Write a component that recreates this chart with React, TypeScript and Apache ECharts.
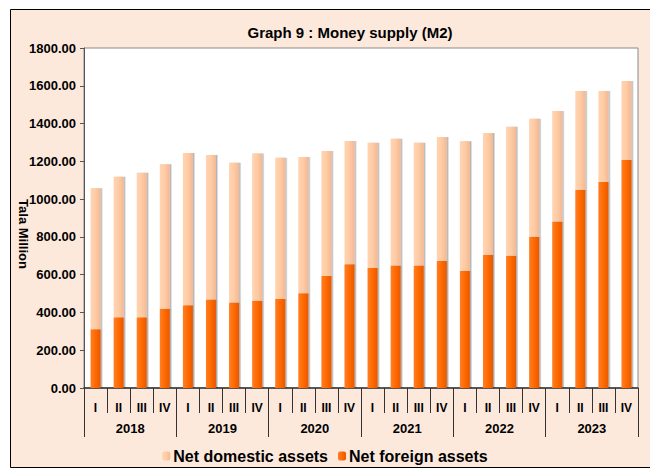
import React, { useEffect, useRef } from "react";
import * as echarts from "echarts";

const quarters = ["I", "II", "III", "IV"];
const years = ["2018", "2019", "2020", "2021", "2022", "2023"];
const categories = years.flatMap((y) => quarters.map((q) => `${q}`));
const totalM2 = [1057, 1119, 1140, 1184, 1244, 1233, 1193, 1242, 1219, 1223, 1255, 1308, 1299, 1320, 1299, 1329, 1306, 1350, 1383, 1426, 1466, 1572, 1572, 1625];
const netForeign = [311, 374, 374, 420, 438, 469, 452, 462, 471, 501, 593, 655, 635, 649, 648, 672, 621, 706, 700, 801, 882, 1050, 1091, 1207];
const netDomestic = totalM2.map((t, i) => t - netForeign[i]);
const yTicks = [0, 200, 400, 600, 800, 1000, 1200, 1400, 1600, 1800];

const FONT = "'Liberation Sans Narrow', 'Liberation Sans', Arial, sans-serif";

export default function App() {
  const ref = useRef<HTMLDivElement>(null);
  useEffect(() => {
    if (!ref.current) return;
    const chart = echarts.init(ref.current, null, { renderer: "svg" });
    const orange = new echarts.graphic.LinearGradient(0, 0, 1, 0, [
      { offset: 0, color: "#FF7E26" },
      { offset: 0.5, color: "#FF6A00" },
      { offset: 1, color: "#E85800" },
    ]);
    const peach = new echarts.graphic.LinearGradient(0, 0, 1, 0, [
      { offset: 0, color: "#FFD4B4" },
      { offset: 0.5, color: "#FFCBA3" },
      { offset: 1, color: "#F2B994" },
    ]);
    chart.setOption({
      animation: false,
      backgroundColor: "transparent",
      graphic: [
        {
          type: "rect",
          z: -10,
          silent: true,
          shape: { x: 10.5, y: 9.5, width: 660, height: 458 },
          style: { fill: "#FDE9DC", stroke: "#000", lineWidth: 1 },
        },
        {
          type: "text",
          x: 23,
          y: 234,
          rotation: -Math.PI / 2,
          style: {
            text: "Tala Million",
            font: `bold 13px ${FONT}`,
            fill: "#000",
            align: "center",
            verticalAlign: "middle",
          },
        },
      ],
      title: {
        text: "Graph 9 : Money supply (M2)",
        left: 345,
        top: 20,
        textAlign: "center",
        textStyle: { fontFamily: FONT, fontWeight: "bold", fontSize: 15, color: "#000" },
      },
      legend: {
        data: ["Net domestic assets", "Net foreign assets"],
        left: "center",
        top: 443,
        itemWidth: 8,
        itemHeight: 9,
        itemGap: 10,
        textStyle: { fontFamily: FONT, fontWeight: "bold", fontSize: 16, color: "#000", padding: [0, 0, 0, -2] },
      },
      grid: {
        left: 84,
        right: 12,
        top: 48,
        bottom: 81,
        show: true,
        backgroundColor: "#fff",
        borderColor: "#8a8a8a",
        borderWidth: 1,
      },
      xAxis: [
        {
          type: "category",
          data: categories,
          position: "bottom",
          axisLine: { show: true, lineStyle: { color: "#333", width: 1.5 } },
          axisTick: { show: true, interval: 0, length: 25, lineStyle: { color: "#333" } },
          axisLabel: { interval: 0, margin: 14, fontFamily: FONT, fontWeight: "bold", fontSize: 12, color: "#000" },
        },
        {
          type: "category",
          data: years,
          position: "bottom",
          axisLine: { show: false },
          axisTick: { show: true, interval: 0, length: 49, lineStyle: { color: "#333" } },
          axisLabel: { interval: 0, margin: 34, fontFamily: FONT, fontWeight: "bold", fontSize: 13, color: "#000" },
        },
      ],
      yAxis: {
        type: "value",
        min: yTicks[0],
        max: yTicks[yTicks.length - 1],
        interval: 200,
        splitLine: { show: false },
        axisLine: { show: true, lineStyle: { color: "#555" } },
        axisTick: { show: true, length: 4, lineStyle: { color: "#555" } },
        axisLabel: {
          margin: 8,
          fontFamily: FONT,
          fontWeight: "bold",
          fontSize: 13,
          color: "#000",
          formatter: (v: number) => v.toFixed(2),
        },
      },
      series: [
        {
          name: "Net foreign assets",
          type: "bar",
          stack: "m2",
          barWidth: 10,
          data: netForeign,
          itemStyle: {
            color: orange,
            shadowColor: "rgba(0,0,0,0.35)",
            shadowOffsetX: 1.5,
            shadowBlur: 1.5,
          },
        },
        {
          name: "Net domestic assets",
          type: "bar",
          stack: "m2",
          barWidth: 10,
          data: netDomestic,
          itemStyle: {
            color: peach,
            shadowColor: "rgba(0,0,0,0.3)",
            shadowOffsetX: 1.5,
            shadowBlur: 1.5,
          },
        },
      ],
    });
    return () => chart.dispose();
  }, []);
  return (
    <div
      ref={ref}
      style={{ position: "absolute", left: 0, top: 0, width: 650, height: 469 }}
    />
  );
}
